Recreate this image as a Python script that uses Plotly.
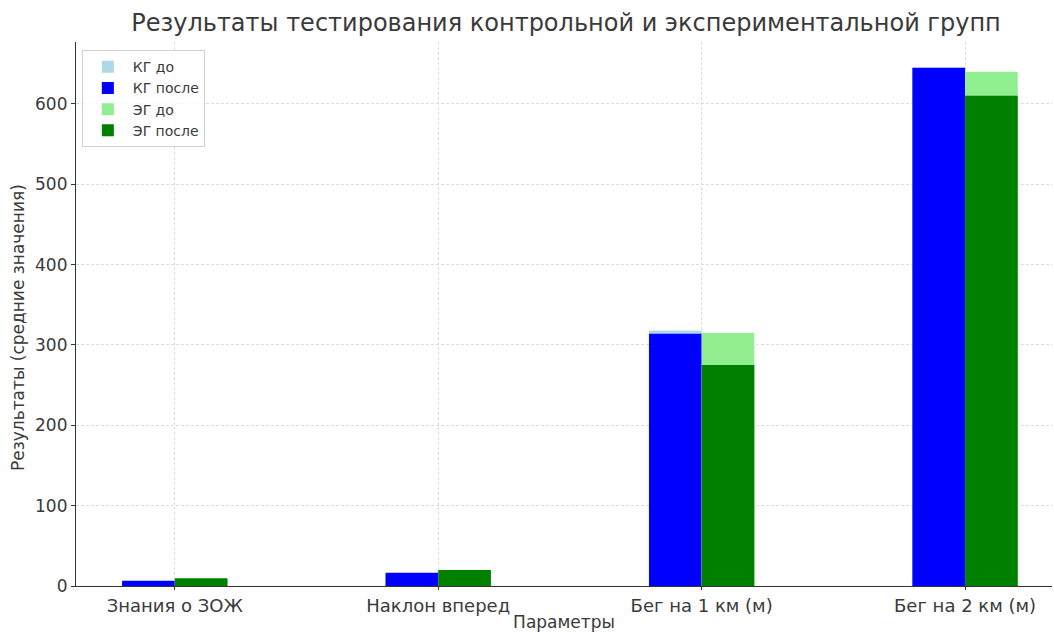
import plotly.graph_objects as go

categories = ["Знания о ЗОЖ", "Наклон вперед", "Бег на 1 км (м)", "Бег на 2 км (м)"]
kg_before = [5, 14, 318, 645]
kg_after = [6.5, 16.5, 314, 645]
eg_before = [8, 18, 315, 640]
eg_after = [9.5, 20, 275, 610]

series = [
    ("КГ до", kg_before, "lightblue", -0.2),
    ("КГ после", kg_after, "blue", -0.2),
    ("ЭГ до", eg_before, "lightgreen", 0.0),
    ("ЭГ после", eg_after, "green", 0.0),
]

xs = list(range(len(categories)))
fig = go.Figure()
for name, vals, color, off in series:
    fig.add_trace(go.Bar(
        x=xs, y=vals, name=name, marker=dict(color=color, line=dict(width=0)),
        offset=off, width=0.2,
    ))

text_color = "#3a3a3a"
grid_color = "#dcdcdc"
fig.update_layout(
    barmode="overlay",
    width=1054, height=632,
    paper_bgcolor="white", plot_bgcolor="white",
    font=dict(family="DejaVu Sans", color=text_color, size=16),
    margin=dict(l=76, r=2, t=42, b=46),
    title=dict(text="Результаты тестирования контрольной и экспериментальной групп",
               x=0.537, xanchor="center", y=0.965, yanchor="middle",
               font=dict(size=24, color=text_color)),
    legend=dict(x=0.006, y=0.985, xanchor="left", yanchor="top",
                bgcolor="rgba(255,255,255,0.8)", bordercolor="#d0d0d0", borderwidth=1,
                font=dict(size=14, color=text_color), traceorder="normal",
                itemwidth=40),
    showlegend=True,
    annotations=[dict(
        text="Результаты (средние значения)", textangle=-90,
        xref="paper", yref="paper", x=0, y=(586 - 328) / 544,
        xanchor="center", yanchor="middle", xshift=-58, showarrow=False,
        font=dict(size=17, color=text_color),
    )],
)
fig.update_xaxes(
    range=[-0.375, 3.33], tickvals=xs, ticktext=categories,
    showgrid=True, gridcolor=grid_color, griddash="3px,2px", gridwidth=1,
    showline=True, linecolor="#333", linewidth=1.2,
    ticks="outside", ticklen=3, tickcolor="#333",
    tickfont=dict(size=18),
    title=dict(text="Параметры", font=dict(size=17), standoff=2),
    zeroline=False,
)
fig.update_yaxes(
    range=[0, 677], tickvals=[0, 100, 200, 300, 400, 500, 600],
    showgrid=True, gridcolor=grid_color, griddash="3px,2px", gridwidth=1,
    showline=True, linecolor="#333", linewidth=1.2,
    ticks="outside", ticklen=4, tickcolor="#333",
    tickfont=dict(size=17),
    zeroline=False,
)
fig.write_html("out.html")
